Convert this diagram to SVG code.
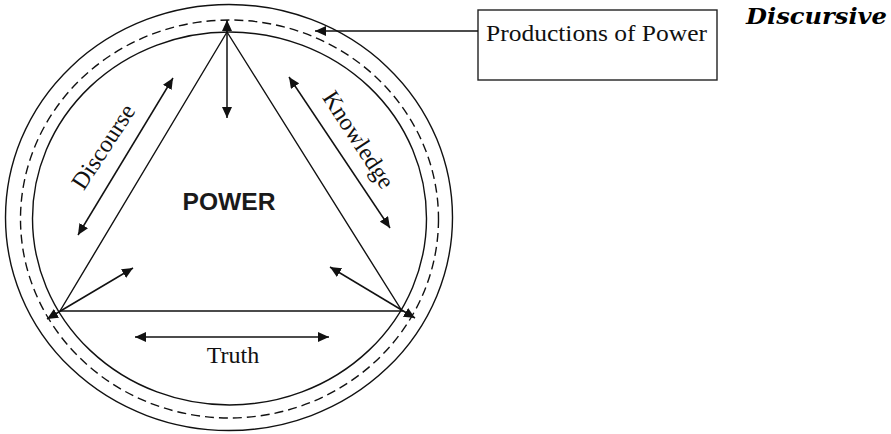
<svg xmlns="http://www.w3.org/2000/svg" width="891" height="434" viewBox="0 0 891 434">
<style>
  .ln { stroke: #111; stroke-width: 1.4; fill: none; }
  .dash { stroke: #111; stroke-width: 1.4; fill: none; stroke-dasharray: 9 5; }
  .serif { font-family: "Liberation Serif", "Times New Roman", serif; font-size: 24px; fill: #111; }
  .arr { stroke: #111; stroke-width: 1.5; fill: none; marker-end: url(#ah); marker-start: url(#ah); }
  .arr1 { stroke: #111; stroke-width: 1.5; fill: none; marker-end: url(#ah); }
</style>
<defs>
  <marker id="ah" markerUnits="userSpaceOnUse" markerWidth="12" markerHeight="10" refX="11" refY="5" orient="auto-start-reverse">
    <path d="M0,0 L11,5 L0,10 z" fill="#111"/>
  </marker>
</defs>
<rect width="891" height="434" fill="#fff"/>
<g id="rings">
  <ellipse class="ln" cx="229" cy="217.5" rx="223.5" ry="213"/>
  <ellipse class="dash" cx="229.5" cy="219" rx="209" ry="199"/>
  <ellipse class="ln" cx="229.5" cy="218.5" rx="197" ry="186.5"/>
</g>
<g id="triangle">
  <polygon class="ln" points="227,32 60,311 402,311"/>
</g>
<g id="power">
  <text x="229" y="210" text-anchor="middle" font-family="'Liberation Sans', Arial, sans-serif" font-weight="bold" font-size="24" fill="#1a1a1a" textLength="93" lengthAdjust="spacingAndGlyphs">POWER</text>
</g>
<g id="productions">
  <rect x="478" y="10" width="239" height="70" fill="#fff" stroke="#222" stroke-width="1.4"/>
  <text class="serif" x="486" y="41" textLength="221" lengthAdjust="spacingAndGlyphs">Productions of Power</text>
</g>
<g id="discursive">
  <text x="746" y="24" font-family="'DejaVu Serif', serif" font-weight="bold" font-style="italic" font-size="22" fill="#000" textLength="141" lengthAdjust="spacingAndGlyphs">Discursive</text>
</g>
<g id="labels">
  <text class="serif" transform="translate(110,151) rotate(-57)" text-anchor="middle">Discourse</text>
  <text class="serif" transform="translate(352,144) rotate(57)" text-anchor="middle">Knowledge</text>
  <text class="serif" x="233" y="363" text-anchor="middle">Truth</text>
</g>
<g id="connectors">
  <line class="arr" x1="227" y1="118" x2="227" y2="20"/>
  <line class="arr" x1="78" y1="235" x2="173" y2="78"/>
  <line class="arr" x1="390" y1="228" x2="289" y2="77"/>
  <line class="arr" x1="133" y1="268" x2="47" y2="319"/>
  <line class="arr" x1="330" y1="267" x2="415" y2="318"/>
  <line class="arr" x1="135" y1="337" x2="329" y2="337"/>
  <line class="arr1" x1="478" y1="31" x2="315" y2="31"/>
</g>
</svg>
